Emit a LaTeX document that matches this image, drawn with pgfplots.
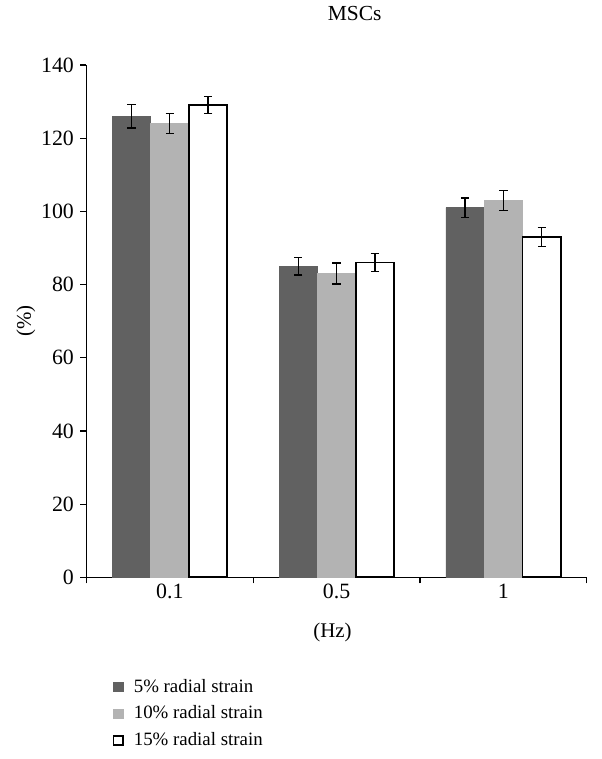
\documentclass[border=0pt]{standalone}
\usepackage{fontspec}
\setmainfont{Liberation Serif}
\usepackage{pgfplots}
\pgfplotsset{compat=1.18}
\definecolor{darkbar}{HTML}{616161}
\definecolor{lightbar}{HTML}{B3B3B3}

\pgfplotsset{
  sq legend/.style={legend image code/.code={\draw[##1] (0pt,-2.4pt) rectangle (4.8pt,2.4pt);}},
  errs/.style={error bars/.cd, y dir=both, y explicit,
    error bar style={line width=0.7pt, black},
    error mark options={rotate=90, mark size=2.1pt, line width=0.7pt, black}},
}

\begin{document}
\fontsize{9.3}{11}\selectfont
\begin{tikzpicture}
\begin{axis}[
  name=ax,
  scale only axis, width=252pt, height=258pt,
  ybar=0pt, bar width=19.3pt,
  xmin=-0.5, xmax=2.5, ymin=0, ymax=140,
  ytick={0,20,...,140},
  xtick={-0.5,0.5,1.5,2.5}, xticklabels={},
  extra x ticks={0,1,2}, extra x tick labels={0.1,0.5,1},
  extra x tick style={major tick length=0pt},
  axis x line*=bottom, axis y line*=left,
  tick align=outside, major tick length=3pt,
  axis line style={line width=0.6pt},
  tick style={line width=0.6pt, black},
  /pgf/number format/assume math mode=true,
  tick label style={font=\fontsize{11}{13}\selectfont},
  label style={font=\fontsize{10.5}{12}\selectfont},
  title={MSCs},
  title style={at={(axis description cs:0.536,1.0775)}, anchor=center,
    font=\fontsize{10.8}{12}\selectfont},
  xlabel={(Hz)},
  xlabel style={at={(axis description cs:0.492,-0.1085)}, anchor=center},
  ylabel={(\%)},
  ylabel style={at={(axis description cs:-0.121,0.5)}, anchor=center},
  legend style={at={(axis description cs:0.0516,-0.19)}, anchor=north west,
    draw=none, fill=none, inner sep=0pt, row sep=1.5pt, column sep=3pt,
    font=\fontsize{9.5}{11}\selectfont},
  legend cell align=left,
]
\addplot[fill=darkbar, draw=darkbar, sq legend, errs] coordinates {
  (0,126) +- (0,3.2)
  (1,85) +- (0,2.4)
  (2,101) +- (0,2.6)
};
\addplot[fill=lightbar, draw=lightbar, sq legend, errs] coordinates {
  (0,124) +- (0,2.7)
  (1,83) +- (0,2.9)
  (2,103) +- (0,2.7)
};
\addplot[fill=white, draw=black, line width=0.9pt, sq legend, errs] coordinates {
  (0,129) +- (0,2.3)
  (1,86) +- (0,2.4)
  (2,93) +- (0,2.6)
};
\legend{5\% radial strain, 10\% radial strain, 15\% radial strain}
\end{axis}
\path ([shift={(-43.5pt,-91.5pt)}]ax.south west) rectangle ([shift={(7.5pt,30pt)}]ax.north east);
\end{tikzpicture}
\end{document}
